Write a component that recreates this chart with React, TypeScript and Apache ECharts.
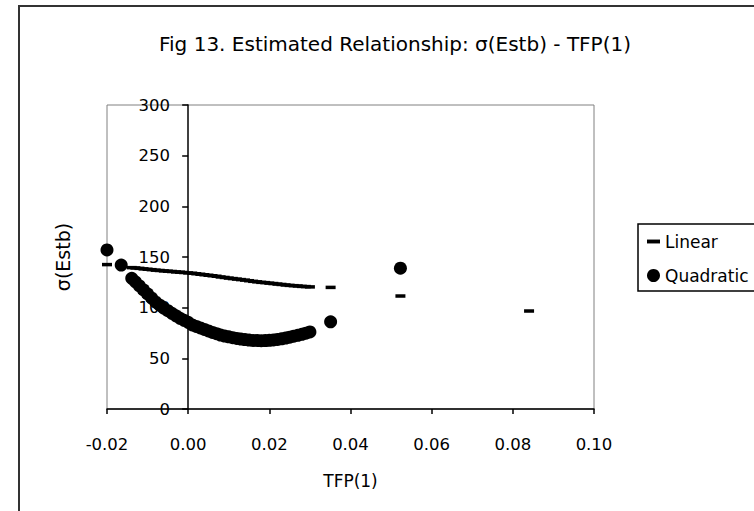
import React, { useEffect, useRef } from "react";
import * as echarts from "echarts";

const titleText = "Fig 13. Estimated Relationship: σ(Estb) - TFP(1)";
const xName = "TFP(1)";
const yName = "σ(Estb)";
const seriesNames = ["Linear", "Quadratic"];

const tfp = [
  -0.02, -0.0165, -0.0139, -0.013, -0.012, -0.011, -0.01, -0.009, -0.008, -0.007,
  -0.006, -0.005, -0.004, -0.003, -0.002, -0.001, 0.0, 0.001, 0.002, 0.003,
  0.004, 0.005, 0.006, 0.007, 0.008, 0.009, 0.01, 0.011, 0.012, 0.013,
  0.014, 0.015, 0.016, 0.017, 0.018, 0.019, 0.02, 0.021, 0.022, 0.023,
  0.024, 0.025, 0.026, 0.027, 0.028, 0.029, 0.03, 0.0351, 0.0523, 0.084,
];

const linear = [
  142.5, 141, 139.5, 139.2, 138.8, 138.3, 137.9, 137.5, 137, 136.7,
  136.3, 136, 135.7, 135.3, 135, 134.7, 134.3, 134, 133.5, 133,
  132.5, 132, 131.5, 131, 130.3, 129.8, 129.2, 128.7, 128.2, 127.7,
  127.2, 126.6, 126, 125.5, 125, 124.7, 124.2, 123.8, 123.3, 122.9,
  122.4, 122, 121.7, 121.4, 121, 120.8, 120.5, 120, 111.5, 96.7,
];

const quadratic: (number | null)[] = [
  157, 142, 129, 125.5, 121.5, 117.5, 113.5, 109.5, 105.5, 102.5,
  99.5, 97, 94.4, 92, 89.5, 87.5, 85.5, 83, 81.5, 80,
  78.5, 77, 75.6, 74.3, 73, 72, 71.2, 70.4, 69.6, 69,
  68.5, 68, 67.7, 67.5, 67.4, 67.5, 67.8, 68.1, 68.7, 69.3,
  70, 70.9, 71.8, 72.7, 73.7, 74.8, 76, 86, 139, null,
];

const FONT = "DejaVu Sans";

export default function App() {
  const ref = useRef<HTMLDivElement>(null);
  useEffect(() => {
    if (!ref.current) return;
    const chart = echarts.init(ref.current, null, { renderer: "svg" });
    const linData = tfp.map((x, i) => [x, linear[i]]);
    const quadData = tfp
      .map((x, i) => [x, quadratic[i]])
      .filter((p) => p[1] !== null);
    chart.setOption({
      animation: false,
      backgroundColor: "#ffffff",
      title: {
        text: titleText,
        left: 154,
        top: 29,
        textStyle: { fontFamily: FONT, fontSize: 20, fontWeight: "normal", color: "#000" },
      },
      graphic: [
        {
          type: "rect",
          shape: { x: 19, y: 6, width: 900, height: 700 },
          style: { fill: "none", stroke: "#333", lineWidth: 2 },
          silent: true,
        },
      ],
      legend: {
        orient: "vertical",
        left: 638,
        top: 224,
        itemWidth: 13,
        itemHeight: 13,
        itemGap: 17,
        padding: [9, 14, 7, 9],
        borderColor: "#000",
        borderWidth: 1.5,
        textStyle: { fontFamily: FONT, fontSize: 17, color: "#000" },
        data: [
          { name: seriesNames[0], icon: "path://M0,0h10v3h-10z" },
          { name: seriesNames[1], icon: "circle" },
        ],
      },
      grid: {
        left: 107,
        top: 105,
        right: 160,
        bottom: 102,
        show: true,
        borderColor: "#808080",
        borderWidth: 1,
        containLabel: false,
        outerBoundsMode: "none",
      },
      xAxis: {
        type: "value",
        min: -0.02,
        max: 0.1,
        interval: 0.02,
        name: xName,
        nameLocation: "middle",
        nameGap: 63,
        nameTextStyle: { fontFamily: FONT, fontSize: 17, color: "#000" },
        axisLine: { onZero: false, lineStyle: { color: "#000", width: 1.5 } },
        axisTick: { show: true, length: 5, lineStyle: { color: "#000", width: 1.5 } },
        axisLabel: {
          formatter: (v: number) => v.toFixed(2),
          fontFamily: FONT,
          fontSize: 16.5,
          color: "#000",
          margin: 27,
        },
        splitLine: { show: false },
      },
      yAxis: {
        type: "value",
        min: 0,
        max: 300,
        interval: 50,
        name: yName,
        nameLocation: "middle",
        nameGap: 35,
        nameMoveOverlap: false,
        nameRotate: 90,
        nameTextStyle: { fontFamily: FONT, fontSize: 19, color: "#000" },
        axisLine: { onZero: true, lineStyle: { color: "#000", width: 1.5 } },
        axisTick: { show: true, length: 6, lineStyle: { color: "#000", width: 1.5 } },
        axisLabel: { fontFamily: FONT, fontSize: 16.5, color: "#000", margin: -63 },
        splitLine: { show: false },
      },
      series: [
        {
          name: seriesNames[0],
          type: "scatter",
          symbol: "rect",
          symbolSize: [10, 3.5],
          itemStyle: { color: "#000", opacity: 1 },
          data: linData,
        },
        {
          name: seriesNames[1],
          type: "scatter",
          symbol: "circle",
          symbolSize: 13,
          itemStyle: { color: "#000", opacity: 1 },
          data: quadData,
        },
      ],
    });
    return () => chart.dispose();
  }, []);
  return (
    <div
      ref={ref}
      style={{ position: "fixed", left: 0, top: 0, width: 754, height: 511, background: "#fff" }}
    />
  );
}
